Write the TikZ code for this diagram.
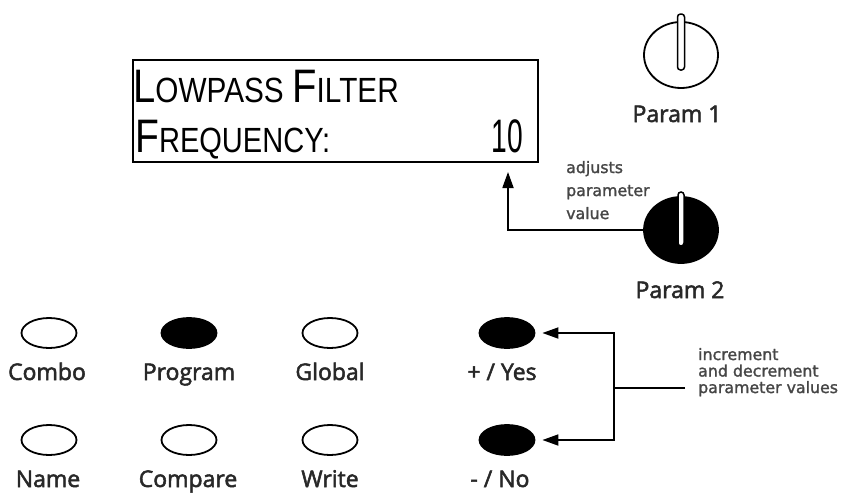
\documentclass[tikz,border=0pt]{standalone}
\usepackage{fontspec}
\usepackage{graphicx}
\usetikzlibrary{arrows.meta,shapes.geometric}
\newfontfamily\labelfont{Open Sans}[FakeBold=2.2]
\newfontfamily\notefont{DejaVu Sans}[FakeBold=1.5]
\newfontfamily\lcdfont{Liberation Sans}
\newcommand{\lcdbig}[1]{{\fontsize{47}{47}\selectfont #1}}
\newcommand{\lcdsmall}[1]{{\fontsize{35}{35}\selectfont #1}}
\definecolor{notegray}{RGB}{70,70,70}
\definecolor{lblgray}{RGB}{40,40,40}
\begin{document}
\begin{tikzpicture}[x=1pt,y=-1pt,
  lbl/.style={font=\labelfont\fontsize{23}{28}\selectfont, text=lblgray, inner sep=0pt, anchor=base},
  note/.style={font=\notefont\fontsize{15.8}{16.5}\selectfont, text=notegray, align=left, inner sep=0pt, anchor=base west},
  btn/.style={draw, line width=1.8pt, ellipse, minimum width=55pt, minimum height=30pt, inner sep=0pt},
  btnon/.style={btn, fill=black},
  knob/.style={draw, line width=1.8pt, ellipse, minimum width=74pt, minimum height=66pt, inner sep=0pt},
  slot/.style={draw, line width=1.5pt, fill=white, rounded corners=3pt},
  conn/.style={draw, line width=1.8pt},
  arr/.style={-{Triangle[length=16pt,width=11pt]}},
  lcdtext/.style={font=\lcdfont, inner sep=0pt, anchor=base west}]
\useasboundingbox (0,0) rectangle (848,498);
\fill[white] (0,0) rectangle (848,498);

% LCD display
\node[draw, line width=1.8pt, minimum width=405pt, minimum height=102pt, inner sep=0pt] (lcd) at (335.5,111) {};
\node[lcdtext] (row1) at (133,102) {\scalebox{0.85}[1]{\lcdbig{L}\lcdsmall{OWPASS}\hspace{10pt}\lcdbig{F}\lcdsmall{ILTER}}};
\node[lcdtext] (row2) at (135,152) {\scalebox{0.83}[1]{\lcdbig{F}\lcdsmall{REQUENCY:}}};
\node[font=\lcdfont, inner sep=0pt, anchor=base east] (val) at (523,152) {\scalebox{0.6}[1]{\lcdbig{10}}};
\coordinate (tip) at (508,172);

% knobs
\node[knob, fill=white] (knob1) at (681,55) {};
\draw[slot] (677.5,14) rectangle (684.5,70);
\node[lbl] (p1) at (677,122) {Param 1};

\node[knob, fill=black] (knob2) at (681,230) {};
\draw[slot] (678,192) rectangle (684,246);
\node[lbl] (p2) at (680,298) {Param 2};

\node[note] (adj) at (566,219) {adjusts\\[6.5pt]parameter\\[6.5pt]value};
\draw[conn, arr] (knob2) -| (tip);

% buttons
\node[btn] (combo) at (49,333) {};
\node[btnon] (program) at (189,333) {};
\node[btn] (global) at (330,333) {};
\node[btnon] (yes) at (507,333) {};
\node[btn] (name) at (49,440) {};
\node[btn] (compare) at (189,440) {};
\node[btn] (write) at (330,440) {};
\node[btnon] (no) at (507,440) {};

\node[lbl] at (47,380) {Combo};
\node[lbl] at (189,380) {Program};
\node[lbl] at (330,380) {Global};
\node[lbl] at (502,380) {+ / Yes};
\node[lbl] at (48,487) {Name};
\node[lbl] at (188,487) {Compare};
\node[lbl] at (330,487) {Write};
\node[lbl] at (500,487) {- / No};

% bracket
\coordinate (bm) at (614,388);
\coordinate (be) at (685,388);
\draw[conn] (be) -- (bm);
\draw[conn, arr, shorten >=7pt] (bm) |- (yes);
\draw[conn, arr, shorten >=7pt] (bm) |- (no);
\node[note] (inc) at (698,393) {increment\\and decrement\\parameter values};
\end{tikzpicture}
\end{document}
